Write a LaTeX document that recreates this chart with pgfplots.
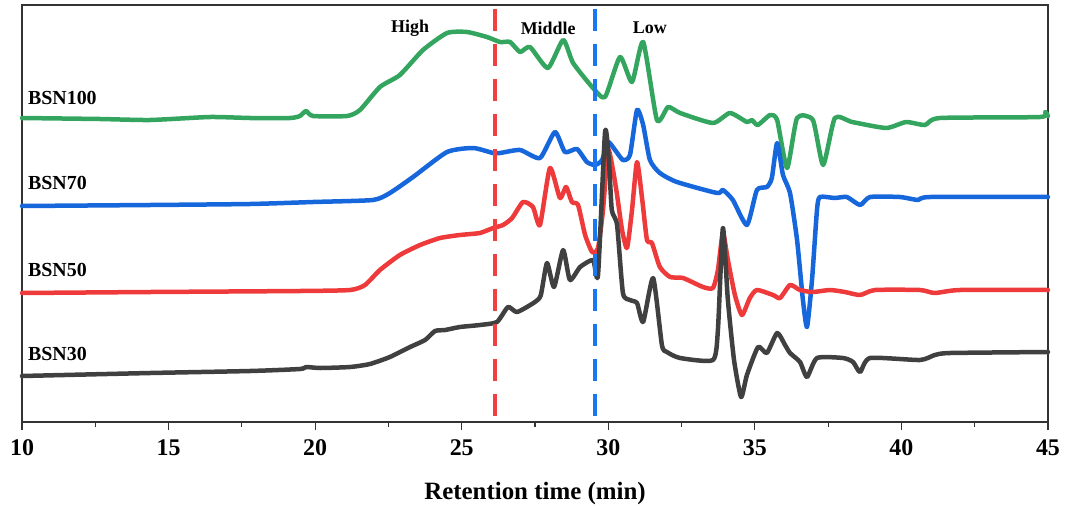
\documentclass[border=0pt]{standalone}
\usepackage{fontspec}
\setmainfont{Liberation Serif}
\usepackage{pgfplots}
\pgfplotsset{compat=1.18}
\definecolor{cgreen}{RGB}{52,165,95}
\definecolor{cblue}{RGB}{22,102,220}
\definecolor{cred}{RGB}{238,58,58}
\definecolor{cblack}{RGB}{64,64,64}
\definecolor{dred}{RGB}{240,64,64}
\definecolor{dblue}{RGB}{25,120,240}
\begin{document}
\begin{tikzpicture}
\useasboundingbox (-22bp,-88bp) rectangle (1043bp,422bp);
\begin{axis}[
  width=1026bp, height=417bp, scale only axis,
  xmin=10, xmax=45, ymin=5, ymax=422, y dir=reverse,
  ytick=\empty,
  xtick={10,15,...,45}, minor x tick num=1,
  xtick pos=bottom, tick align=outside,
  major tick length=8bp, minor tick length=5bp,
  axis line style={line width=1.4bp, black!80},
  every tick/.style={line width=1.2bp, black!80},
  /pgf/number format/assume math mode=true,
  xticklabel style={font=\fontsize{24}{28}\selectfont\bfseries, yshift=-6bp},
  xlabel={Retention time (min)},
  xlabel style={font=\fontsize{25}{30}\selectfont\bfseries, at={(axis description cs:0.5,0)}, anchor=center, yshift=-72bp},
  clip=false,
  every axis plot/.append style={line width=4.5bp, line join=round, line cap=round, smooth, tension=0.35},
]
% BSN100 (green)
\addplot[cgreen] coordinates {
(10.00,118) (12.66,119) (14.37,120) (16.41,117) (17.78,118) (19.14,118) (19.48,116) (19.69,111) (19.93,116)
(21.09,116) (21.53,110) (22.21,87) (22.89,75) (23.68,50) (24.50,33) (25.18,32) (25.86,37) (26.31,42)
(26.65,42) (26.99,52) (27.33,47) (27.94,68) (28.46,40) (28.80,63) (29.48,88) (29.89,97) (30.40,57)
(30.81,82) (31.19,42) (31.66,120) (32.04,107) (32.45,113) (33.57,123) (34.15,113) (34.73,122) (34.90,120)
(35.10,125) (35.52,115) (35.76,120) (36.10,168) (36.44,118) (36.98,120) (37.33,165) (37.73,118)
(38.32,122) (39.48,128) (40.16,122) (40.80,125) (41.31,118) (44.73,117) (44.90,112) (45.00,116)
};
% BSN70 (blue)
\addplot[cblue] coordinates {
(10.00,206) (14.37,205) (17.78,204) (19.93,202) (21.97,200) (22.55,193) (23.34,177) (24.50,152)
(25.39,148) (26.07,153) (26.31,153) (26.99,150) (27.67,158) (28.18,132) (28.52,152) (28.93,149)
(29.27,162) (29.55,165) (29.79,160) (29.99,142) (30.23,150) (30.50,160) (30.74,155) (30.98,110)
(31.19,125) (31.42,160) (31.76,173) (32.34,182) (33.71,193) (33.91,190) (34.25,200) (34.73,225)
(35.07,190) (35.41,187) (35.58,178) (35.76,143) (35.96,175) (36.20,193) (36.44,240) (36.64,300)
(36.78,327) (36.95,280) (37.12,210) (37.22,197) (37.73,198) (38.14,197) (38.59,205) (38.93,197)
(39.95,197) (40.57,200) (40.98,197) (45.00,197)
};
% BSN50 (red)
\addplot[cred] coordinates {
(10.00,293) (14.37,292) (19.48,291) (21.19,290) (21.70,285) (22.21,270) (22.89,255) (23.58,245)
(24.26,238) (24.94,235) (25.62,233) (26.07,228) (26.41,225) (26.72,218) (27.09,202) (27.43,207)
(27.67,225) (28.01,168) (28.35,198) (28.56,187) (28.76,202) (28.97,205) (29.21,235) (29.45,252)
(29.65,248) (29.82,210) (29.99,150) (30.16,170) (30.30,195) (30.47,230) (30.64,248) (30.81,210)
(30.98,162) (31.16,200) (31.32,240) (31.49,243) (31.76,267) (32.11,277) (32.55,278) (33.23,287)
(33.57,288) (33.74,270) (33.91,233) (34.08,260) (34.32,295) (34.56,315) (34.83,298) (35.07,290)
(35.62,295) (35.86,298) (36.20,285) (36.54,290) (36.98,292) (37.56,290) (38.07,292) (38.59,295)
(39.10,290) (40.63,290) (41.14,293) (42.00,290) (45.00,290)
};
% BSN30 (black)
\addplot[cblack] coordinates {
(10.00,376) (14.37,373) (17.78,371) (19.48,369) (19.69,367) (20.17,368) (21.19,367) (21.87,364)
(22.55,357) (23.24,347) (23.75,340) (24.09,331) (24.43,330) (24.94,327) (25.62,325) (26.20,322)
(26.58,307) (26.89,312) (27.50,302) (27.70,295) (27.91,263) (28.15,287) (28.46,250) (28.69,280)
(29.04,267) (29.48,260) (29.65,275) (29.89,132) (30.02,160) (30.12,210) (30.30,225) (30.50,293)
(30.74,300) (30.98,303) (31.19,322) (31.53,278) (31.83,345) (32.00,352) (32.45,358) (33.57,360)
(33.74,330) (33.91,228) (34.08,300) (34.29,360) (34.53,397) (34.73,375) (35.11,347) (35.41,353)
(35.76,333) (36.03,345) (36.20,353) (36.54,362) (36.78,377) (37.12,358) (38.01,358) (38.35,362)
(38.59,372) (38.93,358) (40.63,360) (41.14,355) (41.66,353) (45.00,352)
};
% region dividers
\addplot[dred, line width=4bp, dash pattern=on 22bp off 13bp, line cap=butt, sharp plot] coordinates {(26.14,9) (26.14,422)};
\addplot[dblue, line width=4bp, dash pattern=on 22bp off 13bp, line cap=butt, sharp plot] coordinates {(29.55,9) (29.55,422)};
% labels
\node[font=\fontsize{18}{20}\selectfont\bfseries] at (axis cs:23.24,28) {High};
\node[font=\fontsize{18}{20}\selectfont\bfseries] at (axis cs:27.95,28) {Middle};
\node[font=\fontsize{18}{20}\selectfont\bfseries] at (axis cs:31.42,28) {Low};
\node[anchor=west, inner sep=0pt, font=\fontsize{20}{22}\selectfont\bfseries] at (axis cs:10.2,98) {BSN100};
\node[anchor=west, inner sep=0pt, font=\fontsize{20}{22}\selectfont\bfseries] at (axis cs:10.2,183) {BSN70};
\node[anchor=west, inner sep=0pt, font=\fontsize{20}{22}\selectfont\bfseries] at (axis cs:10.2,270) {BSN50};
\node[anchor=west, inner sep=0pt, font=\fontsize{20}{22}\selectfont\bfseries] at (axis cs:10.2,354) {BSN30};
\end{axis}
\end{tikzpicture}
\end{document}
